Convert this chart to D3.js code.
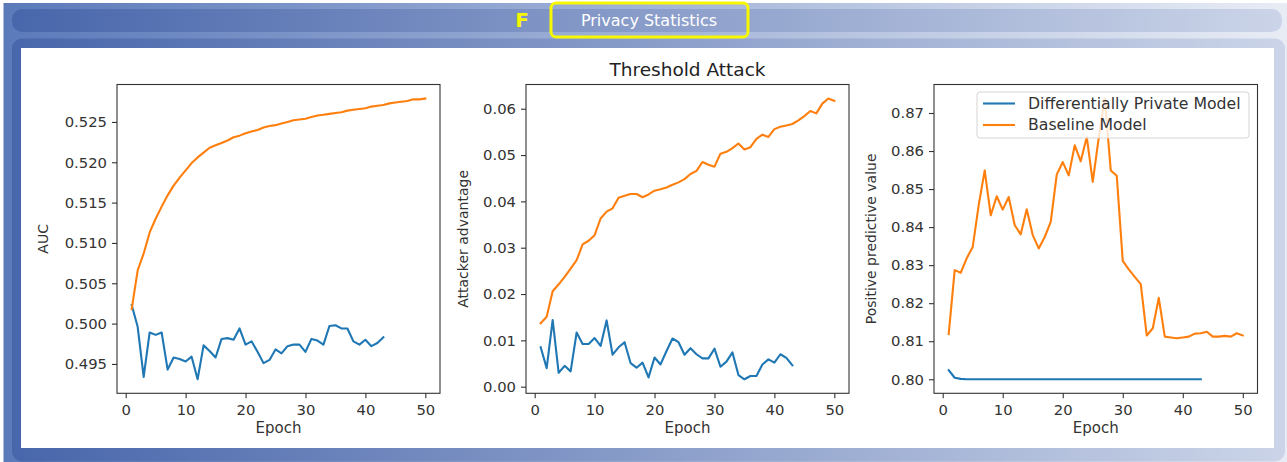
<!DOCTYPE html>
<html>
<head>
<meta charset="utf-8">
<script src="https://cdn.jsdelivr.net/npm/d3@7"></script>
<style>
  html, body { margin: 0; padding: 0; background: #fff; }
  svg { display: block; font-family: "DejaVu Sans", sans-serif; }
</style>
</head>
<body>
<script>
// values, one entry per epoch (starting at epoch 1)
const aucDp = [0.5023, 0.4996, 0.4934, 0.4989, 0.4986, 0.4989, 0.4943, 0.4958, 0.4956, 0.4953,
  0.4959, 0.4931, 0.4973, 0.4966, 0.4958, 0.4981, 0.4982, 0.4980, 0.4994, 0.4974,
  0.4978, 0.4965, 0.4951, 0.4955, 0.4968, 0.4963, 0.4972, 0.4974, 0.4974, 0.4965,
  0.4981, 0.4979, 0.4974, 0.4997, 0.4998, 0.4994, 0.4994, 0.4978, 0.4974, 0.4980,
  0.4972, 0.4976, 0.4983];
const aucBaseline = [0.5018, 0.5066, 0.5087, 0.5113, 0.5130, 0.5145, 0.5159, 0.5171, 0.5181, 0.5190,
  0.5199, 0.5206, 0.5212, 0.5218, 0.5221, 0.5224, 0.5227, 0.5231, 0.5233, 0.5236,
  0.5238, 0.5240, 0.5243, 0.5245, 0.5246, 0.5248, 0.5250, 0.5252, 0.5253, 0.5254,
  0.5256, 0.5258, 0.5259, 0.5260, 0.5261, 0.5262, 0.5264, 0.5265, 0.5266, 0.5267,
  0.5269, 0.5270, 0.5271, 0.5273, 0.5274, 0.5275, 0.5276, 0.5278, 0.5278, 0.5279];

const advDp = [0.0085, 0.0040, 0.0144, 0.0030, 0.0045, 0.0033, 0.0117, 0.0092, 0.0092, 0.0105,
  0.0088, 0.0143, 0.0069, 0.0085, 0.0096, 0.0051, 0.0041, 0.0052, 0.0020, 0.0063,
  0.0048, 0.0077, 0.0104, 0.0096, 0.0069, 0.0083, 0.0070, 0.0061, 0.0061, 0.0082,
  0.0043, 0.0054, 0.0074, 0.0025, 0.0016, 0.0023, 0.0023, 0.0048, 0.0059, 0.0052,
  0.0070, 0.0062, 0.0046];
const advBaseline = [0.0137, 0.0151, 0.0206, 0.0221, 0.0237, 0.0255, 0.0273, 0.0307, 0.0315, 0.0327,
  0.0363, 0.0378, 0.0385, 0.0408, 0.0412, 0.0416, 0.0416, 0.0409, 0.0415, 0.0423,
  0.0426, 0.0430, 0.0436, 0.0441, 0.0448, 0.0459, 0.0466, 0.0485, 0.0479, 0.0475,
  0.0503, 0.0507, 0.0515, 0.0525, 0.0512, 0.0517, 0.0535, 0.0544, 0.0539, 0.0556,
  0.0561, 0.0564, 0.0567, 0.0575, 0.0584, 0.0595, 0.0590, 0.0611, 0.0622, 0.0617];

const ppvDp = [0.8024, 0.8004, 0.8001, 0.8000, 0.8000, 0.8000, 0.8000, 0.8000, 0.8000, 0.8000,
  0.8000, 0.8000, 0.8000, 0.8000, 0.8000, 0.8000, 0.8000, 0.8000, 0.8000, 0.8000,
  0.8000, 0.8000, 0.8000, 0.8000, 0.8000, 0.8000, 0.8000, 0.8000, 0.8000, 0.8000,
  0.8000, 0.8000, 0.8000, 0.8000, 0.8000, 0.8000, 0.8000, 0.8000, 0.8000, 0.8000,
  0.8000, 0.8000, 0.8000];
const ppvBaseline = [0.8119, 0.8287, 0.8280, 0.8318, 0.8348, 0.8458, 0.8549, 0.8431, 0.8481, 0.8446,
  0.8479, 0.8405, 0.8381, 0.8447, 0.8379, 0.8344, 0.8374, 0.8414, 0.8538, 0.8571,
  0.8536, 0.8615, 0.8573, 0.8637, 0.8519, 0.8635, 0.8738, 0.8549, 0.8535, 0.8311,
  0.8289, 0.8269, 0.8250, 0.8115, 0.8134, 0.8214, 0.8112, 0.8110, 0.8108, 0.8110,
  0.8112, 0.8120, 0.8121, 0.8125, 0.8112, 0.8112, 0.8114, 0.8112, 0.8121, 0.8115];

const epochTicks = [0, 10, 20, 30, 40, 50];
const aucTicks = [0.495, 0.500, 0.505, 0.510, 0.515, 0.520, 0.525];
const advTicks = [0.00, 0.01, 0.02, 0.03, 0.04, 0.05, 0.06];
const ppvTicks = [0.80, 0.81, 0.82, 0.83, 0.84, 0.85, 0.86, 0.87];

const seriesNames = ["Differentially Private Model", "Baseline Model"];
const colors = ["#1f77b4", "#ff7f0e"];

const W = 1287, H = 462;
const svg = d3.select("body").append("svg").attr("width", W).attr("height", H);

// ---- decorative frame ----
const defs = svg.append("defs");
function grad(id, c0, c1) {
    const g = defs.append("linearGradient").attr("id", id).attr("x1", "0%").attr("x2", "100%");
    g.append("stop").attr("offset", "0%").attr("stop-color", c0);
    g.append("stop").attr("offset", "100%").attr("stop-color", c1);
}
grad("outerGrad", "#5b7aba", "#e8ecf5");
grad("barGrad", "#4866ab", "#cbd4e8");

svg.append("rect").attr("x", 3.5).attr("y", 3).attr("width", W - 3.5).attr("height", H - 3)
    .attr("fill", "url(#outerGrad)");
svg.append("rect").attr("x", 12).attr("y", 9).attr("width", 1270).attr("height", 23).attr("rx", 10)
    .attr("fill", "url(#barGrad)");
svg.append("rect").attr("x", 12).attr("y", 38.5).attr("width", 1273).attr("height", 423).attr("rx", 10)
    .attr("fill", "url(#barGrad)");
svg.append("rect").attr("x", 21).attr("y", 48).attr("width", 1253).attr("height", 400)
    .attr("fill", "#fff");

svg.append("rect").attr("x", 551).attr("y", 3).attr("width", 197).attr("height", 34).attr("rx", 5)
    .attr("fill", "none").attr("stroke", "#f7f700").attr("stroke-width", 3);
svg.append("text").attr("x", 649).attr("y", 26).attr("text-anchor", "middle")
    .attr("fill", "#fff").attr("font-size", 16).text("Privacy Statistics");
svg.append("text").attr("x", 522).attr("y", 27).attr("text-anchor", "middle")
    .attr("fill", "#f7f700").attr("font-size", 20).attr("font-weight", "bold").text("F");

// ---- panels ----
const plotTop = 84.5, plotBottom = 393.3;

function yDomain(a, b) {
    const lo = d3.min(a.concat(b)), hi = d3.max(a.concat(b));
    const pad = (hi - lo) * 0.05;
    return [lo - pad, hi + pad];
}

const panels = [
    {left: 117, width: 323, dp: aucDp, base: aucBaseline, ticks: aucTicks, fmt: ".3f", label: "AUC", labelX: 43},
    {left: 526, width: 323, dp: advDp, base: advBaseline, ticks: advTicks, fmt: ".2f", label: "Attacker advantage", labelX: 463, title: "Threshold Attack"},
    {left: 934, width: 323.5, dp: ppvDp, base: ppvBaseline, ticks: ppvTicks, fmt: ".2f", label: "Positive predictive value", labelX: 871, legend: true}
];

panels.forEach(p => {
    const x = d3.scaleLinear().domain([1 - 2.45, 50 + 2.45]).range([p.left, p.left + p.width]);
    const y = d3.scaleLinear().domain(yDomain(p.dp, p.base)).range([plotBottom, plotTop]);
    const g = svg.append("g");

    const line = d3.line().x((d, i) => x(i + 1)).y(d => y(d));
    [p.dp, p.base].forEach((s, k) => {
        g.append("path").datum(s).attr("d", line)
            .attr("fill", "none").attr("stroke", colors[k]).attr("stroke-width", 2.1)
            .attr("stroke-linejoin", "round").attr("stroke-linecap", "square");
    });

    const xAxis = g.append("g").attr("transform", `translate(0,${plotBottom})`)
        .call(d3.axisBottom(x).tickValues(epochTicks).tickSize(5).tickPadding(4));
    const yAxis = g.append("g").attr("transform", `translate(${p.left},0)`)
        .call(d3.axisLeft(y).tickValues(p.ticks).tickFormat(d3.format(p.fmt)).tickSize(5).tickPadding(5));
    [xAxis, yAxis].forEach(a => {
        a.select(".domain").remove();
        a.selectAll("line").attr("stroke", "#333").attr("stroke-width", 1.1);
        a.selectAll("text").attr("fill", "#333").attr("font-size", 14.8)
            .attr("font-family", "DejaVu Sans, sans-serif");
    });
    xAxis.selectAll("text").attr("dy", "0.85em");

    g.append("rect").attr("x", p.left).attr("y", plotTop).attr("width", p.width).attr("height", plotBottom - plotTop)
        .attr("fill", "none").attr("stroke", "#333").attr("stroke-width", 1.1);

    g.append("text").attr("x", p.left + p.width / 2).attr("y", 433).attr("text-anchor", "middle")
        .attr("fill", "#333").attr("font-size", 15).text("Epoch");
    g.append("text").attr("transform", `translate(${p.labelX},${(plotTop + plotBottom) / 2}) rotate(-90)`)
        .attr("text-anchor", "middle").attr("dy", "0.35em")
        .attr("fill", "#333").attr("font-size", 14).text(p.label);

    if (p.title) {
        g.append("text").attr("x", p.left + p.width / 2).attr("y", 76).attr("text-anchor", "middle")
            .attr("fill", "#222").attr("font-size", 18.5).text(p.title);
    }

    if (p.legend) {
        const lg = g.append("g").attr("transform", "translate(977,92)");
        lg.append("rect").attr("width", 272).attr("height", 46).attr("rx", 3)
            .attr("fill", "#fff").attr("fill-opacity", 0.8).attr("stroke", "#d5d5d5");
        seriesNames.forEach((name, k) => {
            const ly = 11.5 + k * 21.5;
            lg.append("line").attr("x1", 6).attr("x2", 38).attr("y1", ly).attr("y2", ly)
                .attr("stroke", colors[k]).attr("stroke-width", 2.1);
            lg.append("text").attr("x", 51).attr("y", ly).attr("dy", "0.35em")
                .attr("fill", "#333").attr("font-size", 15.7).text(name);
        });
    }
});
</script>
</body>
</html>
